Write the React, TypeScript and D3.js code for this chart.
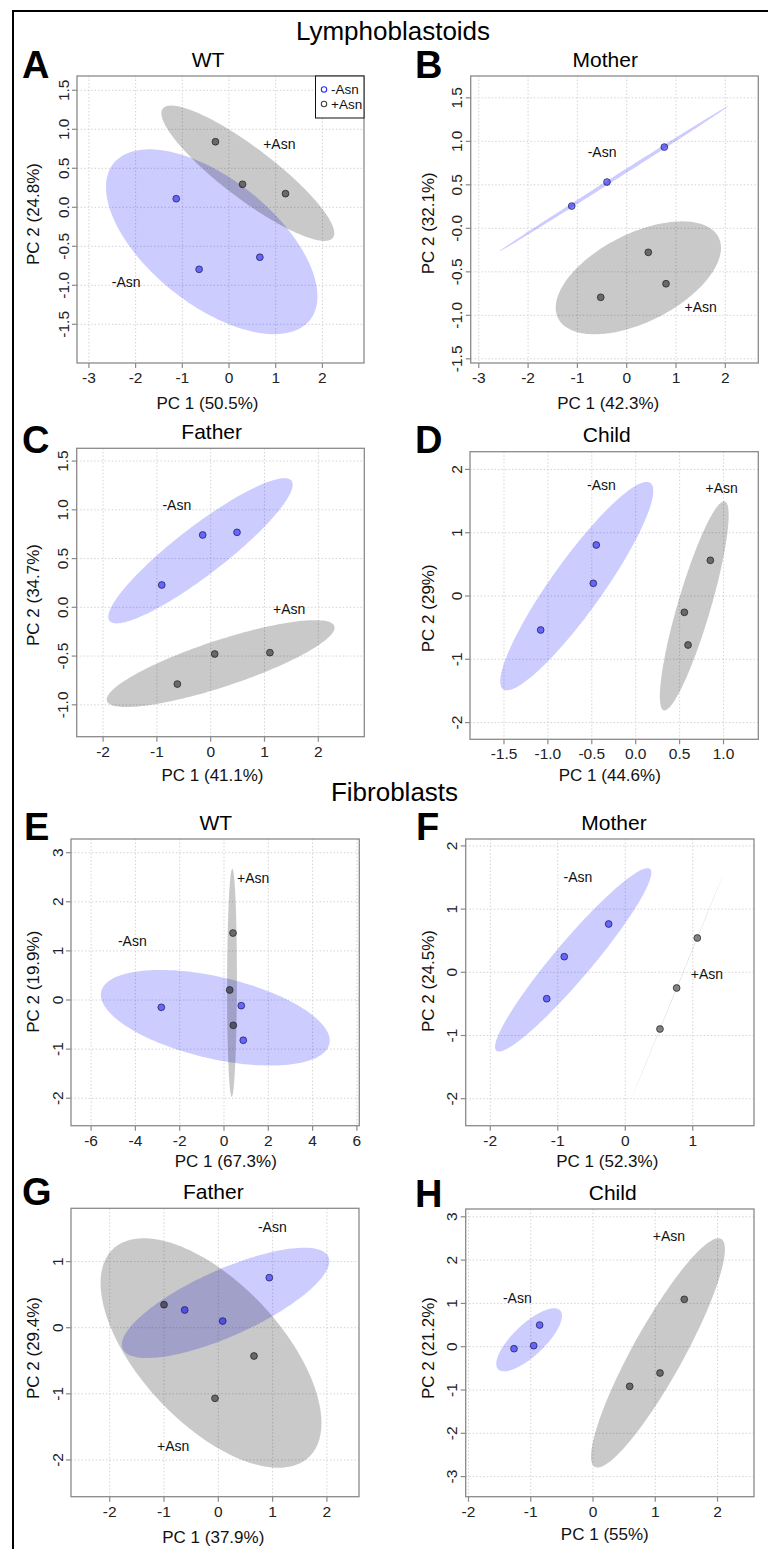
import React from "react";
import * as d3 from "d3";

const FONT = "'Liberation Sans', Arial, Helvetica, sans-serif";

type Pt = [number, number];

// ---------------- data (PC1, PC2) ----------------
const A_minus: Pt[] = [[-1.13, 0.11], [-0.64, -0.795], [0.66, -0.64]];
const A_plus: Pt[] = [[-0.29, 0.84], [0.29, 0.295], [1.21, 0.175]];
const B_minus: Pt[] = [[-1.115, 0.256], [-0.4, 0.532], [0.763, 0.934]];
const B_plus: Pt[] = [[0.438, -0.276], [0.797, -0.637], [-0.527, -0.793]];
const C_minus: Pt[] = [[-0.91, 0.229], [-0.149, 0.742], [0.489, 0.769]];
const C_plus: Pt[] = [[-0.62, -0.787], [0.074, -0.479], [1.1, -0.465]];
const D_minus: Pt[] = [[-0.449, 0.806], [-0.483, 0.2], [-1.082, -0.537]];
const D_plus: Pt[] = [[0.85, 0.564], [0.554, -0.258], [0.596, -0.774]];
const E_minus: Pt[] = [[-2.83, -0.149], [0.78, -0.115], [0.87, -0.82]];
const E_plus: Pt[] = [[0.406, 1.364], [0.256, 0.204], [0.42, -0.516]];
const F_minus: Pt[] = [[-1.164, -0.418], [-0.904, 0.247], [-0.246, 0.764]];
const F_plus: Pt[] = [[1.067, 0.543], [0.761, -0.248], [0.514, -0.897]];
const G_minus: Pt[] = [[-0.619, 0.268], [0.081, 0.101], [0.939, 0.757]];
const G_plus: Pt[] = [[-1.0, 0.348], [0.657, -0.428], [-0.061, -1.068]];
const H_minus: Pt[] = [[-1.269, -0.046], [-0.953, 0.023], [-0.857, 0.5]];
const H_plus: Pt[] = [[1.466, 1.094], [1.076, -0.607], [0.589, -0.915]];

// group label anchors (data coords)
const A_labels: Pt[] = [[-2.2, -0.954], [1.077, 0.808]];
const B_labels: Pt[] = [[-0.5, 0.88], [1.5, -0.9]];
const C_labels: Pt[] = [[-0.63, 1.05], [1.46, -0.02]];
const D_labels: Pt[] = [[-0.39, 1.76], [0.98, 1.7]];
const E_labels: Pt[] = [[-4.14, 1.21], [1.32, 2.48]];
const F_labels: Pt[] = [[-0.7, 1.51], [1.21, -0.03]];
const G_labels: Pt[] = [[0.995, 1.53], [-0.83, -1.785]];
const H_labels: Pt[] = [[-1.216, 1.118], [1.22, 2.556]];

const groupNames = ["-Asn", "+Asn"];

// axis domains
const A_xDom = [-3.255, 2.891], A_yDom = [-1.996, 1.683];
const B_xDom = [-3.164, 2.669], B_yDom = [-1.548, 1.751];
const C_xDom = [-2.491, 2.855], C_yDom = [-1.327, 1.631];
const D_xDom = [-1.887, 1.396], D_yDom = [-2.264, 2.28];
const E_xDom = [-6.907, 6.108], E_yDom = [-2.56, 3.279];
const F_xDom = [-2.364, 1.907], F_yDom = [-2.427, 2.109];
const G_xDom = [-2.713, 2.591], G_yDom = [-2.556, 1.806];
const H_xDom = [-2.045, 2.586], H_yDom = [-3.464, 3.18];

// ticks
const A_xTicks = [-3, -2, -1, 0, 1, 2];
const A_yTicks = [-1.5, -1.0, -0.5, 0.0, 0.5, 1.0, 1.5];
const A_yTickLabels = ["-1.5", "-1.0", "-0.5", "0.0", "0.5", "1.0", "1.5"];
const B_xTicks = [-3, -2, -1, 0, 1, 2];
const B_yTicks = [-1.5, -1.0, -0.5, 0.0, 0.5, 1.0, 1.5];
const B_yTickLabels = ["-1.5", "-1.0", "-0.5", "-0.0", "0.5", "1.0", "1.5"];
const C_xTicks = [-2, -1, 0, 1, 2];
const C_yTicks = [-1.0, -0.5, 0.0, 0.5, 1.0, 1.5];
const C_yTickLabels = ["-1.0", "-0.5", "0.0", "0.5", "1.0", "1.5"];
const D_xTicks = [-1.5, -1.0, -0.5, 0.0, 0.5, 1.0];
const D_xTickLabels = ["-1.5", "-1.0", "-0.5", "0.0", "0.5", "1.0"];
const D_yTicks = [-2, -1, 0, 1, 2];
const E_xTicks = [-6, -4, -2, 0, 2, 4, 6];
const E_yTicks = [-2, -1, 0, 1, 2, 3];
const F_xTicks = [-2, -1, 0, 1];
const F_yTicks = [-2, -1, 0, 1, 2];
const G_xTicks = [-2, -1, 0, 1, 2];
const G_yTicks = [-2, -1, 0, 1];
const H_xTicks = [-2, -1, 0, 1, 2];
const H_yTicks = [-3, -2, -1, 0, 1, 2, 3];

// ---------------- layout (pixels) ----------------
type Box = { left: number; top: number; right: number; bottom: number };
interface Layout {
  box: Box;
  letter: string; letterX: number; letterY: number;
  titleX: number;
  xTitleX: number; xTitleY: number;
  yTitleX: number; yTitleY: number;
}

interface PanelSpec extends Layout {
  title: string; xTitle: string; yTitle: string;
  minus: Pt[]; plus: Pt[]; labels: Pt[];
  xDom: number[]; yDom: number[];
  xTicks: number[]; yTicks: number[];
  xTickLabels?: string[]; yTickLabels?: string[];
  legend?: boolean;
}

const panels: PanelSpec[] = [
  {
    letter: "A", title: "WT", xTitle: "PC 1 (50.5%)", yTitle: "PC 2 (24.8%)",
    minus: A_minus, plus: A_plus, labels: A_labels, xDom: A_xDom, yDom: A_yDom,
    xTicks: A_xTicks, yTicks: A_yTicks, yTickLabels: A_yTickLabels, legend: true,
    box: { left: 77, top: 76, right: 364, bottom: 363 },
    letterX: 22, letterY: 78, titleX: 208, xTitleX: 207.5, xTitleY: 409, yTitleX: 38.5, yTitleY: 214,
  },
  {
    letter: "B", title: "Mother", xTitle: "PC 1 (42.3%)", yTitle: "PC 2 (32.1%)",
    minus: B_minus, plus: B_plus, labels: B_labels, xDom: B_xDom, yDom: B_yDom,
    xTicks: B_xTicks, yTicks: B_yTicks, yTickLabels: B_yTickLabels,
    box: { left: 470.7, top: 76, right: 758.3, bottom: 363 },
    letterX: 415, letterY: 78, titleX: 605.3, xTitleX: 608.2, xTitleY: 409, yTitleX: 434, yTitleY: 223.3,
  },
  {
    letter: "C", title: "Father", xTitle: "PC 1 (41.1%)", yTitle: "PC 2 (34.7%)",
    minus: C_minus, plus: C_plus, labels: C_labels, xDom: C_xDom, yDom: C_yDom,
    xTicks: C_xTicks, yTicks: C_yTicks, yTickLabels: C_yTickLabels,
    box: { left: 76.7, top: 448.3, right: 364.3, bottom: 736.7 },
    letterX: 22, letterY: 453, titleX: 211.7, xTitleX: 212.5, xTitleY: 780.5, yTitleX: 38.5, yTitleY: 595,
  },
  {
    letter: "D", title: "Child", xTitle: "PC 1 (44.6%)", yTitle: "PC 2 (29%)",
    minus: D_minus, plus: D_plus, labels: D_labels, xDom: D_xDom, yDom: D_yDom,
    xTicks: D_xTicks, yTicks: D_yTicks, xTickLabels: D_xTickLabels,
    box: { left: 470, top: 451.7, right: 758.3, bottom: 739.3 },
    letterX: 415, letterY: 453, titleX: 606.8, xTitleX: 609.8, xTitleY: 780.5, yTitleX: 434, yTitleY: 608.3,
  },
  {
    letter: "E", title: "WT", xTitle: "PC 1 (67.3%)", yTitle: "PC 2 (19.9%)",
    minus: E_minus, plus: E_plus, labels: E_labels, xDom: E_xDom, yDom: E_yDom,
    xTicks: E_xTicks, yTicks: E_yTicks,
    box: { left: 71, top: 839, right: 359.3, bottom: 1125.7 },
    letterX: 24, letterY: 840, titleX: 215.8, xTitleX: 225.8, xTitleY: 1167, yTitleX: 38.5, yTitleY: 981.7,
  },
  {
    letter: "F", title: "Mother", xTitle: "PC 1 (52.3%)", yTitle: "PC 2 (24.5%)",
    minus: F_minus, plus: F_plus, labels: F_labels, xDom: F_xDom, yDom: F_yDom,
    xTicks: F_xTicks, yTicks: F_yTicks,
    box: { left: 465.7, top: 839, right: 754, bottom: 1125.7 },
    letterX: 416, letterY: 840, titleX: 614, xTitleX: 607.3, xTitleY: 1167, yTitleX: 434, yTitleY: 981,
  },
  {
    letter: "G", title: "Father", xTitle: "PC 1 (37.9%)", yTitle: "PC 2 (29.4%)",
    minus: G_minus, plus: G_plus, labels: G_labels, xDom: G_xDom, yDom: G_yDom,
    xTicks: G_xTicks, yTicks: G_yTicks,
    box: { left: 71, top: 1208.3, right: 359, bottom: 1496.7 },
    letterX: 22, letterY: 1205, titleX: 213.3, xTitleX: 213.3, xTitleY: 1542.5, yTitleX: 38.5, yTitleY: 1348,
  },
  {
    letter: "H", title: "Child", xTitle: "PC 1 (55%)", yTitle: "PC 2 (21.2%)",
    minus: H_minus, plus: H_plus, labels: H_labels, xDom: H_xDom, yDom: H_yDom,
    xTicks: H_xTicks, yTicks: H_yTicks,
    box: { left: 465.7, top: 1209, right: 754, bottom: 1496.7 },
    letterX: 415, letterY: 1207, titleX: 612.7, xTitleX: 604.8, xTitleY: 1539.5, yTitleX: 434, yTitleY: 1348,
  },
];

// 95% normal-theory confidence ellipse from sample covariance
const CHI2_95_2DF = 5.991465;
function ellipse(pts: Pt[], n = 160): Pt[] {
  const m = pts.length;
  const mx = d3.mean(pts, (d) => d[0]) as number;
  const my = d3.mean(pts, (d) => d[1]) as number;
  let sxx = 0, syy = 0, sxy = 0;
  pts.forEach(([a, b]) => {
    sxx += (a - mx) * (a - mx);
    syy += (b - my) * (b - my);
    sxy += (a - mx) * (b - my);
  });
  sxx /= m - 1; syy /= m - 1; sxy /= m - 1;
  const tr = sxx + syy;
  const det = sxx * syy - sxy * sxy;
  const disc = Math.sqrt(Math.max(0, (tr * tr) / 4 - det));
  const l1 = tr / 2 + disc;
  const l2 = Math.max(0, tr / 2 - disc);
  const th = 0.5 * Math.atan2(2 * sxy, sxx - syy);
  const r = Math.sqrt(CHI2_95_2DF);
  const a = r * Math.sqrt(l1), b = r * Math.sqrt(l2);
  const out: Pt[] = [];
  for (let i = 0; i < n; i++) {
    const t = (i / n) * Math.PI * 2;
    const u = a * Math.cos(t), v = b * Math.sin(t);
    out.push([mx + u * Math.cos(th) - v * Math.sin(th), my + u * Math.sin(th) + v * Math.cos(th)]);
  }
  return out;
}

const BLUE_FILL = "rgba(0,0,255,0.2)";
const GRAY_FILL = "rgba(0,0,0,0.21)";
const AXIS = "#8a8a8a";
const GRID = "#d4d4d4";

function Panel({ p }: { p: PanelSpec }) {
  const { box } = p;
  const x = d3.scaleLinear().domain(p.xDom).range([box.left, box.right]);
  const y = d3.scaleLinear().domain(p.yDom).range([box.bottom, box.top]);
  const line = d3
    .line<Pt>()
    .x((d) => x(d[0]))
    .y((d) => y(d[1]))
    .curve(d3.curveLinearClosed);
  const clipId = `clip-${p.letter}`;
  const xLab = (v: number, i: number) => (p.xTickLabels ? p.xTickLabels[i] : String(v));
  const yLab = (v: number, i: number) => (p.yTickLabels ? p.yTickLabels[i] : String(v));
  const tickFs = 15.5;
  return (
    <g>
      <defs>
        <clipPath id={clipId}>
          <rect x={box.left} y={box.top} width={box.right - box.left} height={box.bottom - box.top} />
        </clipPath>
      </defs>
      {/* grid */}
      {p.xTicks.map((t) => (
        <line key={`gx${t}`} x1={x(t)} x2={x(t)} y1={box.top} y2={box.bottom} stroke={GRID} strokeWidth={1} strokeDasharray="1.5,2" />
      ))}
      {p.yTicks.map((t) => (
        <line key={`gy${t}`} y1={y(t)} y2={y(t)} x1={box.left} x2={box.right} stroke={GRID} strokeWidth={1} strokeDasharray="1.5,2" />
      ))}
      {/* ellipses */}
      <g clipPath={`url(#${clipId})`}>
        <path d={line(ellipse(p.minus)) || ""} fill={BLUE_FILL} stroke="none" />
        <path d={line(ellipse(p.plus)) || ""} fill={GRAY_FILL} stroke="none" />
      </g>
      {/* points */}
      {p.minus.map((d, i) => (
        <circle key={`m${i}`} cx={x(d[0])} cy={y(d[1])} r={3.4} fill="rgba(0,0,255,0.5)" stroke="rgba(20,20,60,0.75)" strokeWidth={0.9} />
      ))}
      {p.plus.map((d, i) => (
        <circle key={`p${i}`} cx={x(d[0])} cy={y(d[1])} r={3.4} fill="rgba(0,0,0,0.48)" stroke="rgba(30,30,30,0.8)" strokeWidth={0.9} />
      ))}
      {/* group labels */}
      {p.labels.map((d, i) => (
        <text key={`l${i}`} x={x(d[0])} y={y(d[1])} dy="0.36em" textAnchor="middle" fontSize={14} fill="#111">
          {groupNames[i]}
        </text>
      ))}
      {/* box */}
      <rect x={box.left} y={box.top} width={box.right - box.left} height={box.bottom - box.top} fill="none" stroke={AXIS} strokeWidth={1.3} />
      {/* x ticks */}
      {p.xTicks.map((t, i) => (
        <g key={`xt${t}`}>
          <line x1={x(t)} x2={x(t)} y1={box.bottom} y2={box.bottom + 5} stroke={AXIS} strokeWidth={1.2} />
          <text x={x(t)} y={box.bottom + 20} textAnchor="middle" fontSize={tickFs} fill="#222">
            {xLab(t, i)}
          </text>
        </g>
      ))}
      {/* y ticks */}
      {p.yTicks.map((t, i) => (
        <g key={`yt${t}`}>
          <line x1={box.left - 5} x2={box.left} y1={y(t)} y2={y(t)} stroke={AXIS} strokeWidth={1.2} />
          <text transform={`translate(${box.left - 8.5},${y(t)}) rotate(-90)`} textAnchor="middle" fontSize={tickFs} fill="#222">
            {yLab(t, i)}
          </text>
        </g>
      ))}
      {/* titles */}
      <text x={p.xTitleX} y={p.xTitleY} textAnchor="middle" fontSize={17} fill="#111">{p.xTitle}</text>
      <text transform={`translate(${p.yTitleX},${p.yTitleY}) rotate(-90)`} textAnchor="middle" fontSize={17} fill="#111">{p.yTitle}</text>
      <text x={p.titleX} y={box.top - 9.5} textAnchor="middle" fontSize={21} fill="#000">{p.title}</text>
      <text x={p.letterX} y={p.letterY} fontSize={38} fontWeight="bold" fill="#000">{p.letter}</text>
      {/* legend */}
      {p.legend && (
        <g>
          <rect x={box.right - 48.5} y={box.top} width={48.5} height={42} fill="#fff" stroke="#111" strokeWidth={1} />
          <circle cx={box.right - 40} cy={box.top + 13.5} r={2.7} fill="none" stroke="#2b2bff" strokeWidth={1.1} />
          <text x={box.right - 33} y={box.top + 18} fontSize={13.5} fill="#111">{groupNames[0]}</text>
          <circle cx={box.right - 40} cy={box.top + 28} r={2.7} fill="none" stroke="#444" strokeWidth={1.1} />
          <text x={box.right - 33} y={box.top + 33} fontSize={13.5} fill="#111">{groupNames[1]}</text>
        </g>
      )}
    </g>
  );
}

export default function App() {
  return (
    <svg
      width={768}
      height={1549}
      viewBox="0 0 768 1549"
      style={{ position: "absolute", left: 0, top: 0, background: "#fff", fontFamily: FONT }}
      fontFamily={FONT}
    >
      <rect x={0} y={0} width={768} height={1549} fill="#fff" />
      <rect x={13} y={11} width={800} height={1600} fill="none" stroke="#000" strokeWidth={2} />
      <text x={393} y={39.5} textAnchor="middle" fontSize={26} fill="#000">Lymphoblastoids</text>
      <text x={394.5} y={801} textAnchor="middle" fontSize={26} fill="#000">Fibroblasts</text>
      {panels.map((p) => (
        <Panel key={p.letter} p={p} />
      ))}
    </svg>
  );
}
